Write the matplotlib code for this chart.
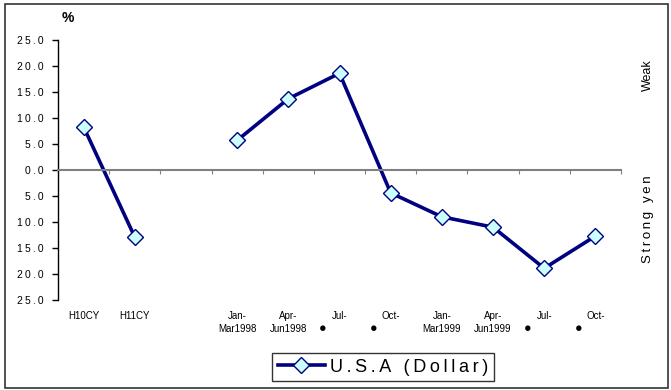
import numpy as np
import matplotlib.pyplot as plt
from matplotlib.ticker import FuncFormatter
from matplotlib.patches import Rectangle

plt.rcParams["font.family"] = ["Liberation Sans", "DejaVu Sans"]

TS = "\u2009"  # thin space for the wide letter spacing


def spaced(s):
    return TS.join(s)


categories = ["H10CY", "H11CY", "", "Jan-\nMar1998", "Apr-\nJun1998", "Jul-\n●",
              "Oct-\n●", "Jan-\nMar1999", "Apr-\nJun1999", "Jul-\n●", "Oct-\n●"]
usa_dollar = [8.3, -12.9, np.nan, 5.7, 13.7, 18.6, -4.4, -9.0, -11.0, -18.9, -12.7]

fig = plt.figure(figsize=(6.71, 3.90), dpi=100)
ax = fig.add_axes([58 / 671, 90 / 390, 563 / 671, 260 / 390])

x = np.arange(len(categories))
ax.plot(x, usa_dollar, color="#000080", lw=2.6, marker="D", ms=8.5,
        mfc="#CCFFFF", mec="#000080", mew=1.0, label=spaced("U.S.A (Dollar)"))

ax.set_xlim(-0.5, len(categories) - 0.5)
ax.set_ylim(-25, 25)
ax.set_yticks(np.arange(-25, 26, 5))
ax.yaxis.set_major_formatter(FuncFormatter(lambda v, p: spaced(f"{abs(v):.1f}")))
ax.tick_params(axis="y", direction="out", length=4, width=1, labelsize=7.5, pad=6)

# category axis sits on the zero line
for s in ["top", "right"]:
    ax.spines[s].set_visible(False)
ax.spines["bottom"].set_position(("data", 0))
ax.spines["bottom"].set_color("#808080")
ax.spines["bottom"].set_linewidth(1.5)
ax.spines["left"].set_linewidth(1.0)
ax.set_xticks(np.arange(-0.5, len(categories), 1.0))
ax.tick_params(axis="x", direction="out", length=3, color="#808080", labelbottom=False)
for i, lab in enumerate(categories):
    top, _, bottom = lab.partition("\n")
    ax.text(i, -27.2, top, ha="center", va="top", fontsize=7)
    if bottom == "●":
        ax.text(i - 0.33, -29.4, bottom, ha="center", va="top", fontsize=9)
    elif bottom:
        ax.text(i, -29.7, bottom, ha="center", va="top", fontsize=7)

fig.text(68 / 671, 1 - 18 / 390, "%", fontsize=10, fontweight="bold", ha="center", va="center")
fig.text(648 / 671, 1 - 75 / 390, "Weak", rotation=90, fontsize=9, ha="center", va="center")
fig.text(648 / 671, 1 - 219 / 390, spaced("Strong yen"), rotation=90, fontsize=9.5,
         ha="center", va="center")

leg = ax.legend(loc="center", bbox_to_anchor=(383 / 671, 1 - 367 / 390),
                bbox_transform=fig.transFigure, fontsize=13, frameon=True,
                fancybox=False, edgecolor="black", handlelength=2.6,
                borderpad=0.3, handletextpad=0.3)
leg.get_frame().set_linewidth(1.0)

fig.patches.append(Rectangle((5 / 671, 2 / 390), 663 / 671, 384 / 390, transform=fig.transFigure,
                             fill=False, edgecolor="#333333", lw=1.2))

fig.savefig("out.png", dpi=100)
